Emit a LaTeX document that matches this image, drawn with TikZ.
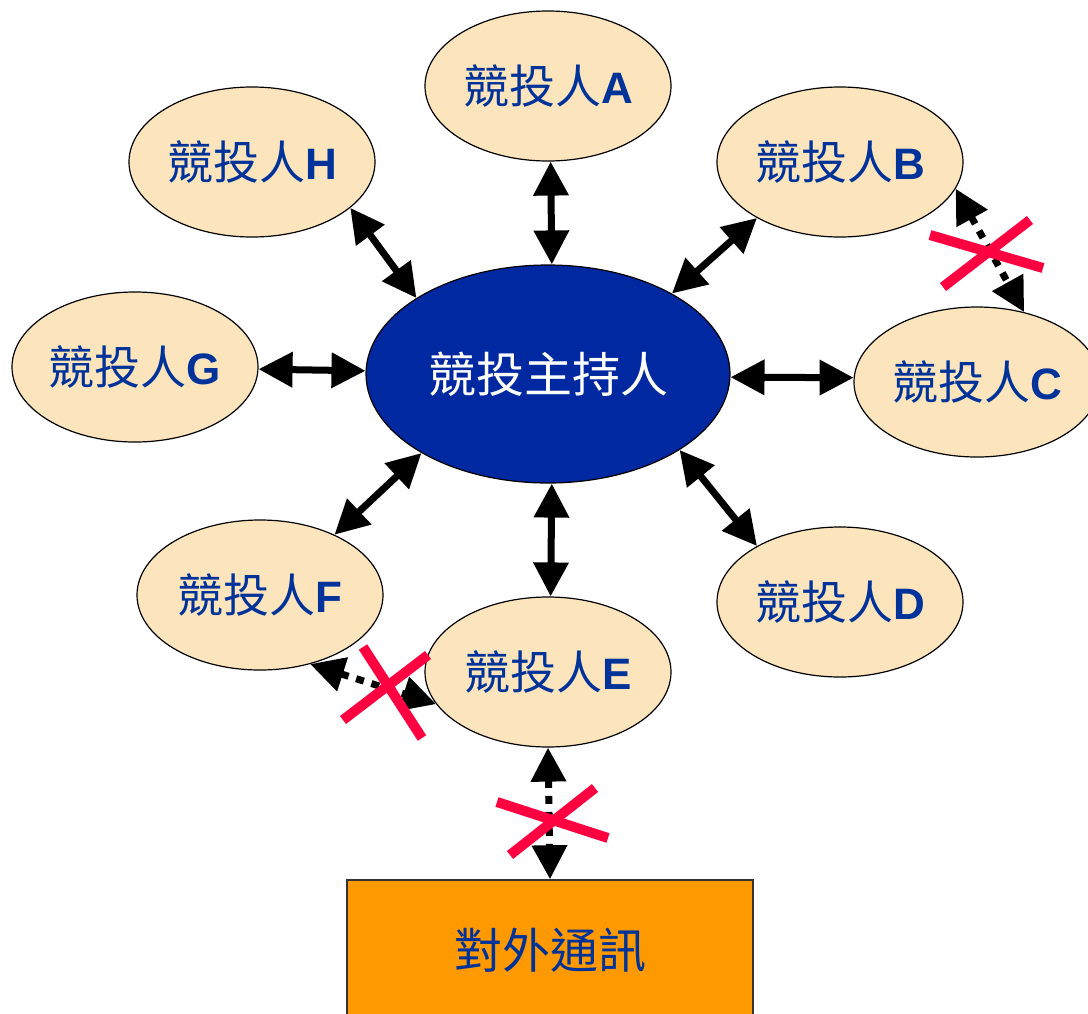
\documentclass[tikz,border=0pt]{standalone}
\usepackage{fontspec}
\setmainfont{Liberation Sans}
\newfontfamily\cjk{Noto Sans CJK TC}
\usetikzlibrary{arrows.meta,shapes.geometric}
\definecolor{bidfill}{RGB}{252,228,188}
\definecolor{hostblue}{RGB}{0,40,160}
\definecolor{labelblue}{RGB}{0,51,153}
\definecolor{crossred}{RGB}{255,0,64}
\definecolor{extorange}{RGB}{255,153,0}
\newcommand{\bidlabel}[1]{{\cjk\fontsize{46}{46}\selectfont 競投人}\textbf{#1}}
\tikzset{
  bidder/.style={ellipse, draw=black, line width=1.2pt, fill=bidfill,
    minimum width=246pt, minimum height=150pt, inner sep=0pt,
    text=labelblue, font=\fontsize{44}{44}\selectfont},
  host/.style={ellipse, draw=black, line width=1.2pt, fill=hostblue,
    minimum width=364pt, minimum height=218pt, inner sep=0pt,
    text=white, font=\cjk\fontsize{48}{48}\selectfont},
  extbox/.style={rectangle, draw=black!80, line width=1.5pt, fill=extorange,
    minimum width=406pt, minimum height=140pt, inner sep=0pt,
    text=labelblue, font=\cjk\fontsize{48}{48}\selectfont},
  dbl/.style={{Triangle[width=34pt,length=34pt]}-{Triangle[width=34pt,length=34pt]}, line width=7pt, black},
  dotarrow/.style={dbl, dash pattern=on 8pt off 8pt},
  crossline/.style={crossred, line width=10pt}
}
\begin{document}
\begin{tikzpicture}[x=1pt,y=-1pt]
\useasboundingbox (0,0) rectangle (1088,1013);
% nodes
\node[host] (M) at (548,374) {競投主持人};
\node[bidder] (A) at (548,86) {\bidlabel{A}};
\node[bidder] (H) at (252,162) {\bidlabel{H}};
\node[bidder] (B) at (840,162) {\bidlabel{B}};
\node[bidder] (G) at (135,367) {\bidlabel{G}};
\node[bidder] (C) at (977,382) {\bidlabel{C}};
\node[bidder] (D) at (840,602) {\bidlabel{D}};
\node[bidder] (F) at (260,595) {\bidlabel{F}};
\node[bidder] (E) at (548,672) {\bidlabel{E}};
\node[extbox] (X) at (550,950) {對外通訊};
% solid connectors
\draw[dbl] (A.-88) -- (M.88);
\draw[dbl] (H.-25.6) -- (M.150.5);
\draw[dbl] (B.214) -- (M.33);
\draw[dbl] (G.-1) -- (M.179);
\draw[dbl] (M.-1.5) -- (C.178.5);
\draw[dbl] (M.-30) -- (D.146.6);
\draw[dbl] (M.212.8) -- (F.39.8);
\draw[dbl] (M.-88) -- (E.88);
% dotted connectors
\draw[dotarrow] (B.-13.5) -- (C.56);
\draw[dotarrow] (F.-54.5) -- (E.196.6);
\draw[dotarrow] (E.south) -- (X.north);
% crosses
\draw[crossline] (930,235) -- (1043,268);
\draw[crossline] (943,287) -- (1030,220);
\draw[crossline] (363,647) -- (422,738);
\draw[crossline] (343,720) -- (428,655);
\draw[crossline] (497,802) -- (608,838);
\draw[crossline] (510,855) -- (595,788);
\end{tikzpicture}
\end{document}
